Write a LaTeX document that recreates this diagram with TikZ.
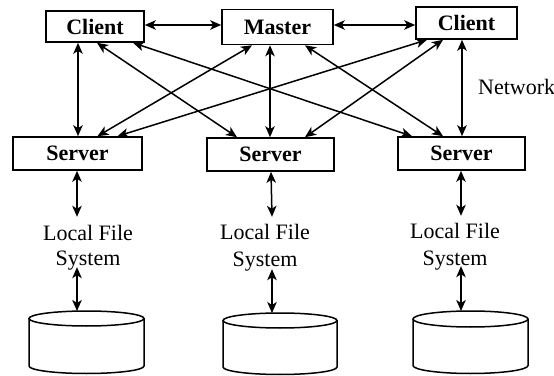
\documentclass[tikz,border=0pt]{standalone}
\usepackage{fontspec}
\setmainfont{Liberation Serif}
\usetikzlibrary{arrows.meta}
\tikzset{
  box/.style={draw, line width=1.6pt, inner sep=0pt, font=\fontsize{22}{26}\selectfont\bfseries},
  lbl/.style={inner sep=0pt, anchor=base, text height=15pt, text depth=5pt, font=\fontsize{22}{26}\selectfont},
  link/.style={line width=1.5pt, {Stealth[length=11pt,width=9.5pt,inset=3pt]}-{Stealth[length=11pt,width=9.5pt,inset=3pt]}},
  cyl/.style={line width=1.5pt}
}
\newcommand{\dbcyl}[5]{%
  \draw[cyl] ({#1-#4},#2) -- ({#1-#4},#3) arc[start angle=180,end angle=360,x radius=#4,y radius=#5] -- ({#1+#4},#2);
  \draw[cyl] (#1,#2) ellipse[x radius=#4,y radius=#5];
}
\begin{document}
\begin{tikzpicture}[x=1pt,y=1pt]
\useasboundingbox (0,0) rectangle (554,375);
% boxes
\node[box, minimum width=98pt, minimum height=31pt] (c1) at (95,348.5) {Client};
\node[box, minimum width=111pt, minimum height=35pt] (m) at (277.5,348) {Master};
\node[box, minimum width=101pt, minimum height=32pt] (c2) at (466.5,352) {Client};
\node[box, minimum width=129pt, minimum height=33pt] (s1) at (77.5,221.5) {Server};
\node[box, minimum width=127pt, minimum height=33pt] (s2) at (270.5,220.5) {Server};
\node[box, minimum width=127pt, minimum height=33pt] (s3) at (461.5,221.5) {Server};
\node[inner sep=0pt, anchor=base west, font=\fontsize{22}{26}\selectfont] (net) at (478,280) {Network};
% labels
\node[lbl] (lf1) at (88,134) {Local File};
\node[lbl] (sy1) at (88,110) {System};
\node[lbl] (lf2) at (265,135) {Local File};
\node[lbl] (sy2) at (265,108) {System};
\node[lbl] (lf3) at (455,136) {Local File};
\node[lbl] (sy3) at (455,110) {System};
% cylinders
\dbcyl{86.5}{56.5}{9}{57.5}{7.5}
\dbcyl{280}{54.5}{8}{57}{7.5}
\dbcyl{470.5}{56}{9.5}{57.5}{8}
\coordinate (d1) at (77,64);
\coordinate (d2) at (272,62);
\coordinate (d3) at (461,64);
% top links
\draw[link] ([yshift=1.5pt]c1.east) -- ([yshift=2pt]m.west);
\draw[link] ([yshift=2pt]m.east) -- ([yshift=-2pt]c2.west);
% client/master to servers
\draw[link] ([xshift=-17pt]c1.south) -- ([xshift=0.5pt]s1.north);
\draw[link] ([xshift=2pt]c1.south) -- ([xshift=-33.5pt]s2.north);
\draw[link] ([xshift=38pt]c1.south) -- ([xshift=-49.5pt]s3.north);
\draw[link] ([xshift=-25.5pt]m.south) -- ([xshift=20pt]s1.north);
\draw[link] ([xshift=-7.5pt]m.south) -- ([xshift=-0.5pt]s2.north);
\draw[link] ([xshift=27.5pt]m.south) -- ([xshift=-18.5pt]s3.north);
\draw[link] ([xshift=-39.5pt]c2.south) -- ([xshift=40pt]s1.north);
\draw[link] ([xshift=-23.5pt]c2.south) -- ([xshift=34.5pt]s2.north);
\draw[link] ([xshift=-4.5pt]c2.south) -- ([xshift=0.5pt]s3.north);
% servers to local file systems
\draw[link] ([xshift=-0.5pt]s1.south) -- ([xshift=-11pt,yshift=9pt]lf1.north);
\draw[link] ([xshift=0.5pt]s2.south) -- ([xshift=7pt,yshift=8pt]lf2.north);
\draw[link] ([xshift=-0.5pt]s3.south) -- ([xshift=6pt,yshift=8pt]lf3.north);
% file systems to disks
\draw[link] ([xshift=-11pt,yshift=3pt]sy1.south) -- (d1);
\draw[link] ([xshift=7pt,yshift=3pt]sy2.south) -- (d2);
\draw[link] ([xshift=6pt,yshift=4pt]sy3.south) -- (d3);
\end{tikzpicture}
\end{document}
